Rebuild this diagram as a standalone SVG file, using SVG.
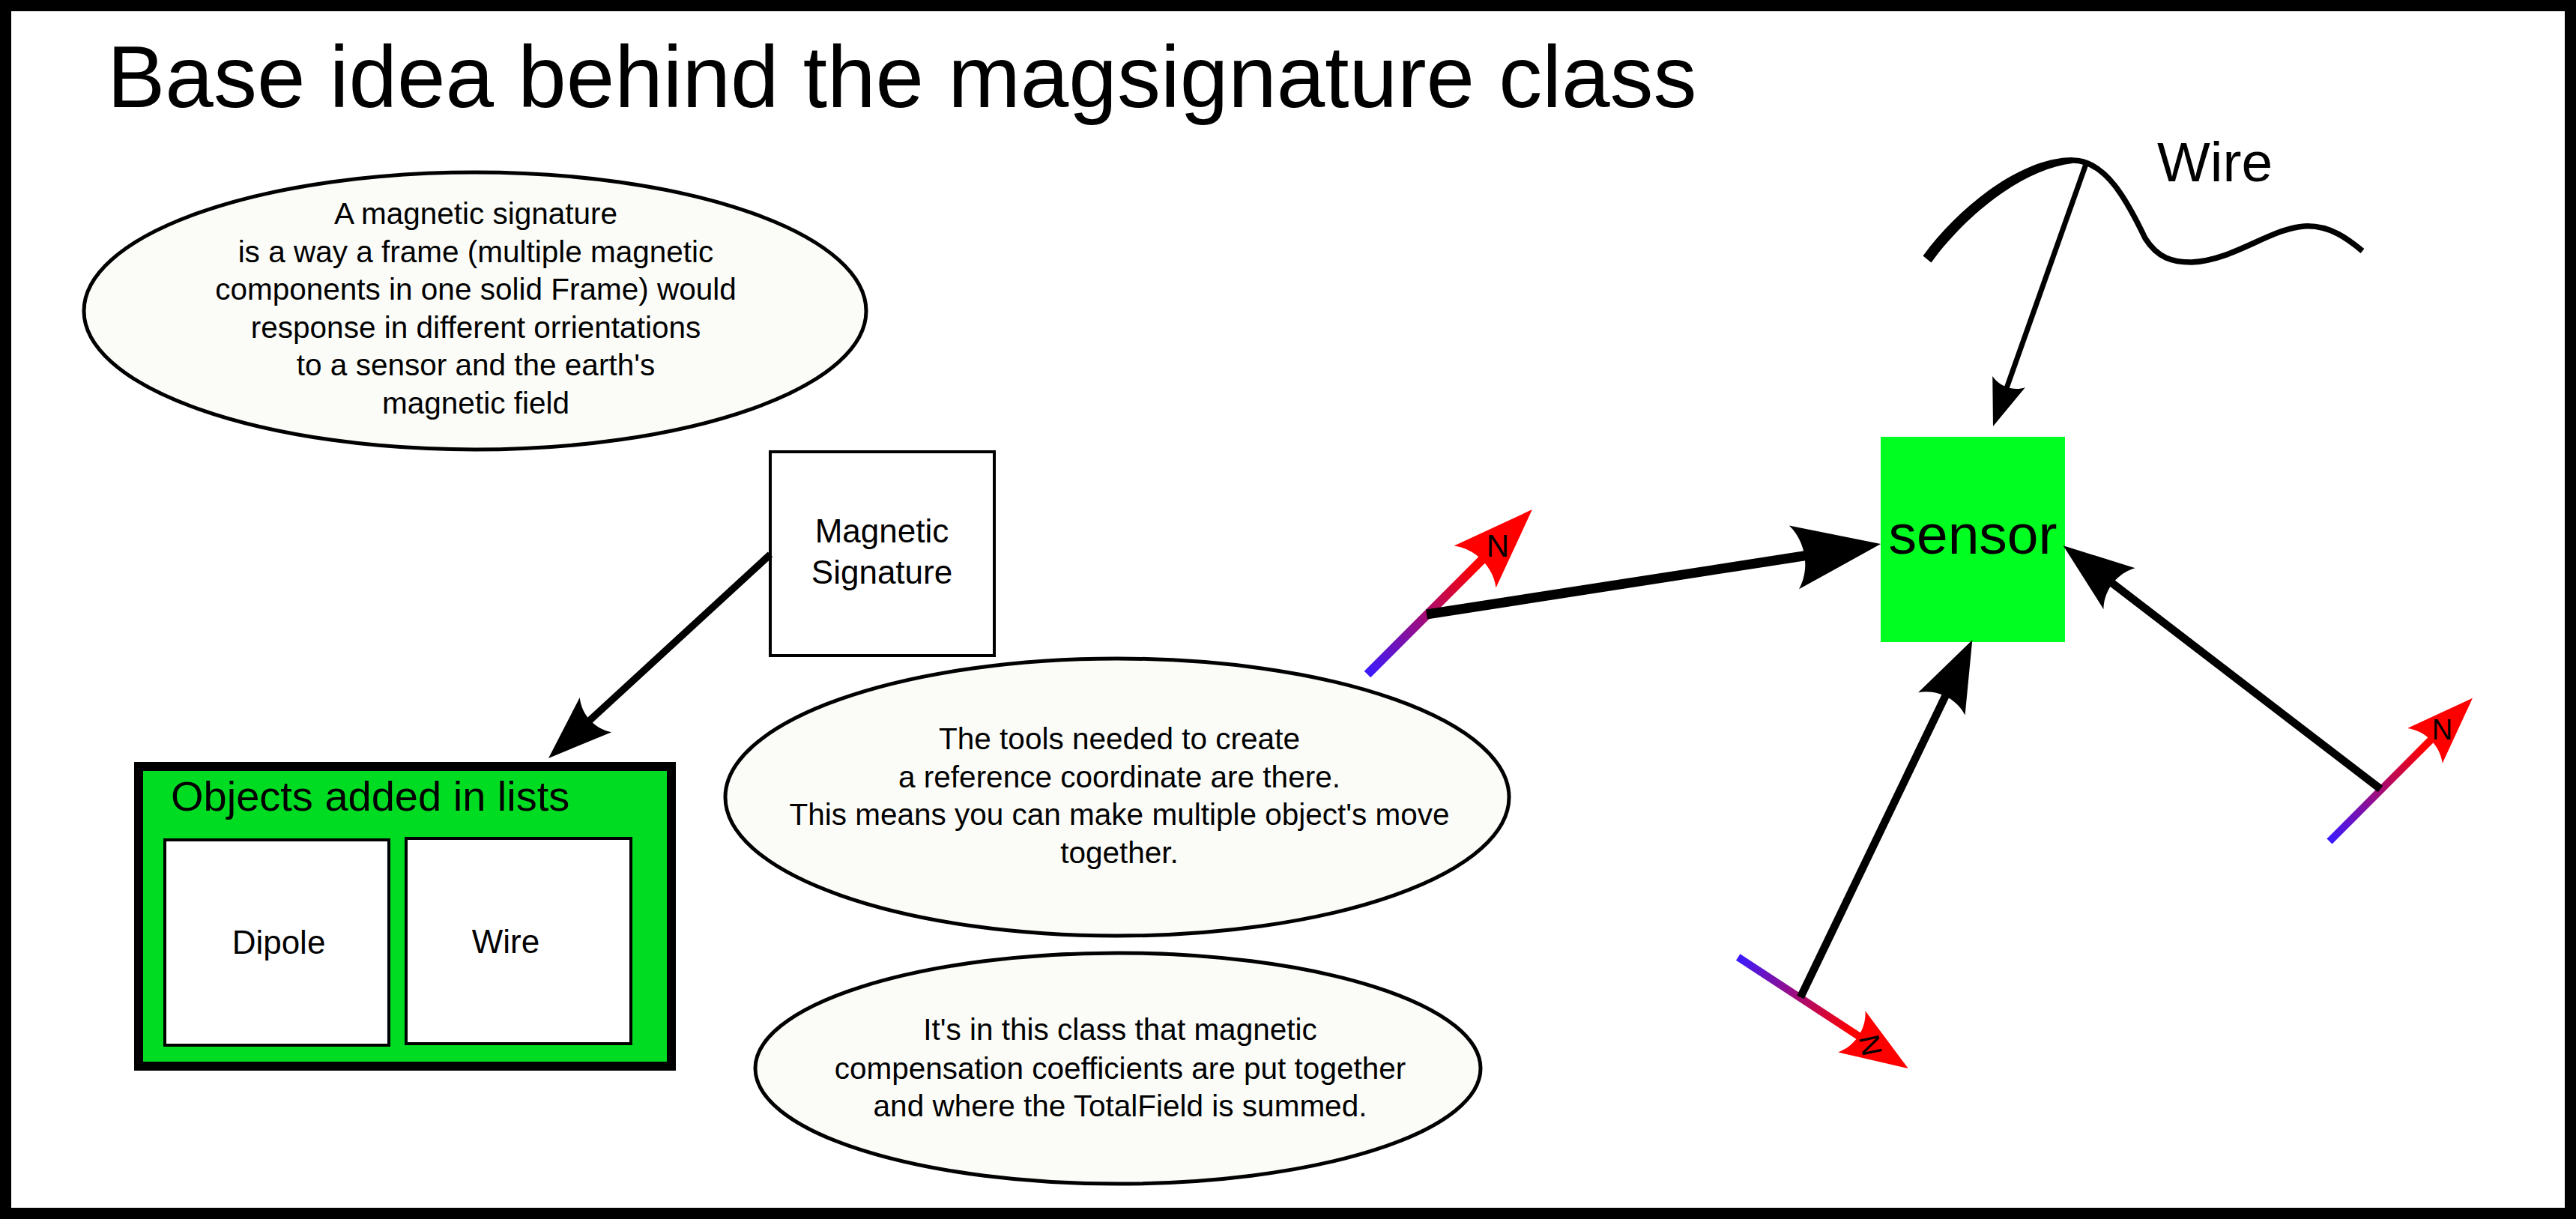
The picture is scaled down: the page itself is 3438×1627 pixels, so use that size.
<svg xmlns="http://www.w3.org/2000/svg" width="3438" height="1627" viewBox="0 0 3438 1627">
  <style>
    text { font-family: "Liberation Sans", Arial, Helvetica, sans-serif; fill: #000; }
    .note { fill: #fbfcf8; stroke: #000; stroke-width: 5; }
    .note-text { font-size: 40.5px; text-anchor: middle; }
    .box { fill: #fff; stroke: #000; stroke-width: 4; }
    .box-text { font-size: 44px; text-anchor: middle; }
    .conn { fill: none; stroke: #000; stroke-linecap: butt; marker-end: url(#ah); }
    .needle { fill: none; stroke-linecap: butt; marker-end: url(#ahRed); }
    .nlabel { text-anchor: middle; }
  </style>
  <defs>
    <marker id="ah" markerUnits="strokeWidth" viewBox="-1 -4 11 8" refX="3" refY="0" markerWidth="11" markerHeight="8" orient="auto" overflow="visible">
      <path d="M 0 -3.3 L 9 0 L 0 3.3 C 1.45 1.4, 1.45 -1.4, 0 -3.3 Z" fill="#000"/>
    </marker>
    <marker id="ahRed" markerUnits="strokeWidth" viewBox="-1 -4 11 8" refX="3" refY="0" markerWidth="11" markerHeight="8" orient="auto" overflow="visible">
      <path d="M 0 -3.3 L 9 0 L 0 3.3 C 1.45 1.4, 1.45 -1.4, 0 -3.3 Z" fill="#ff0000"/>
    </marker>
    <linearGradient id="g1" gradientUnits="userSpaceOnUse" x1="1825" y1="900" x2="1994" y2="731">
      <stop offset="0" stop-color="#3a1aff"/>
      <stop offset="0.85" stop-color="#ff0000"/>
    </linearGradient>
    <linearGradient id="g2" gradientUnits="userSpaceOnUse" x1="3109" y1="1123" x2="3258" y2="974">
      <stop offset="0" stop-color="#3a1aff"/>
      <stop offset="0.85" stop-color="#ff0000"/>
    </linearGradient>
    <linearGradient id="g3" gradientUnits="userSpaceOnUse" x1="2320" y1="1277.5" x2="2496.5" y2="1393">
      <stop offset="0" stop-color="#3a1aff"/>
      <stop offset="0.85" stop-color="#ff0000"/>
    </linearGradient>
  </defs>

  <rect id="frame" x="7.5" y="7.5" width="3423" height="1612" fill="#fff" stroke="#000" stroke-width="15"/>

  <g id="title">
    <text x="143" y="143" font-size="116">Base idea behind the magsignature class</text>
  </g>

  <g id="note-signature">
    <ellipse class="note" cx="634" cy="415" rx="522" ry="185"/>
    <text class="note-text" x="635" y="299">A magnetic signature</text>
    <text class="note-text" x="635" y="350">is a way a frame (multiple magnetic</text>
    <text class="note-text" x="635" y="400">components in one solid Frame) would</text>
    <text class="note-text" x="635" y="451">response in different orrientations</text>
    <text class="note-text" x="635" y="501">to a sensor and the earth's</text>
    <text class="note-text" x="635" y="552">magnetic field</text>
  </g>

  <g id="node-magsig">
    <rect class="box" x="1028" y="603" width="299" height="272"/>
    <text class="box-text" x="1177" y="724">Magnetic</text>
    <text class="box-text" x="1177" y="779">Signature</text>
  </g>

  <g id="node-objects">
    <rect x="185" y="1023" width="711" height="400" fill="#00dc22" stroke="#000" stroke-width="12"/>
    <text x="228" y="1082" font-size="56">Objects added in lists</text>
    <g id="node-dipole">
      <rect class="box" x="220" y="1121" width="299" height="274" stroke-width="3.5"/>
      <text class="box-text" x="372" y="1273">Dipole</text>
    </g>
    <g id="node-wire">
      <rect class="box" x="542" y="1119" width="300" height="274" stroke-width="3.5"/>
      <text class="box-text" x="675" y="1272">Wire</text>
    </g>
  </g>

  <g id="note-tools">
    <ellipse class="note" cx="1491" cy="1064" rx="523" ry="185"/>
    <text class="note-text" x="1494" y="1000">The tools needed to create</text>
    <text class="note-text" x="1494" y="1051">a reference coordinate are there.</text>
    <text class="note-text" x="1494" y="1101">This means you can make multiple object's move</text>
    <text class="note-text" x="1494" y="1152">together.</text>
  </g>

  <g id="note-compensation">
    <ellipse class="note" cx="1492" cy="1426" rx="484" ry="154"/>
    <text class="note-text" x="1495" y="1388">It's in this class that magnetic</text>
    <text class="note-text" x="1495" y="1440">compensation coefficients are put together</text>
    <text class="note-text" x="1495" y="1490">and where the TotalField is summed.</text>
  </g>

  <g id="node-sensor">
    <rect x="2510" y="583" width="246" height="274" fill="#00ff21"/>
    <text x="2633" y="739" font-size="75" text-anchor="middle">sensor</text>
  </g>

  <g id="source-wire">
    <path d="M 2566.5 341.5 C 2615 275, 2698 210, 2766 210 L 2766 218 C 2702 225, 2625 285, 2577.5 350.5 Z" fill="#000"/>
    <path d="M 2764 214 C 2810 212, 2840 270, 2863 318 C 2880 345, 2900 350, 2925 350 C 2980 348, 3030 305, 3075 302 C 3110 300, 3135 320, 3153 335" fill="none" stroke="#000" stroke-width="7.5"/>
    <text x="2879" y="242" font-size="75">Wire</text>
  </g>

  <g id="compass-1">
    <line class="needle" x1="1825" y1="900" x2="1994" y2="731" stroke="url(#g1)" stroke-width="12"/>
    <text class="nlabel" x="1999" y="743" font-size="42">N</text>
  </g>

  <g id="compass-2">
    <line class="needle" x1="3109" y1="1123" x2="3257.6" y2="974.1" stroke="url(#g2)" stroke-width="10"/>
    <text class="nlabel" x="3259.5" y="987" font-size="38">N</text>
  </g>

  <g id="compass-3">
    <line class="needle" x1="2319.7" y1="1277.5" x2="2496.5" y2="1393.2" stroke="url(#g3)" stroke-width="10"/>
    <text class="nlabel" x="2497" y="1408.6" font-size="38" transform="rotate(78 2497 1395)">N</text>
  </g>

  <g id="connectors">
    <line class="conn" x1="1028" y1="740" x2="774" y2="973.4" stroke-width="9.5"/>
    <line class="conn" x1="2784" y1="219" x2="2674" y2="529.4" stroke-width="7"/>
    <line class="conn" x1="1904" y1="820" x2="2433" y2="738" stroke-width="13"/>
    <line class="conn" x1="2403" y1="1331" x2="2605" y2="911" stroke-width="10.5"/>
    <line class="conn" x1="3177" y1="1053" x2="2803.6" y2="766.5" stroke-width="10.5"/>
  </g>
</svg>
